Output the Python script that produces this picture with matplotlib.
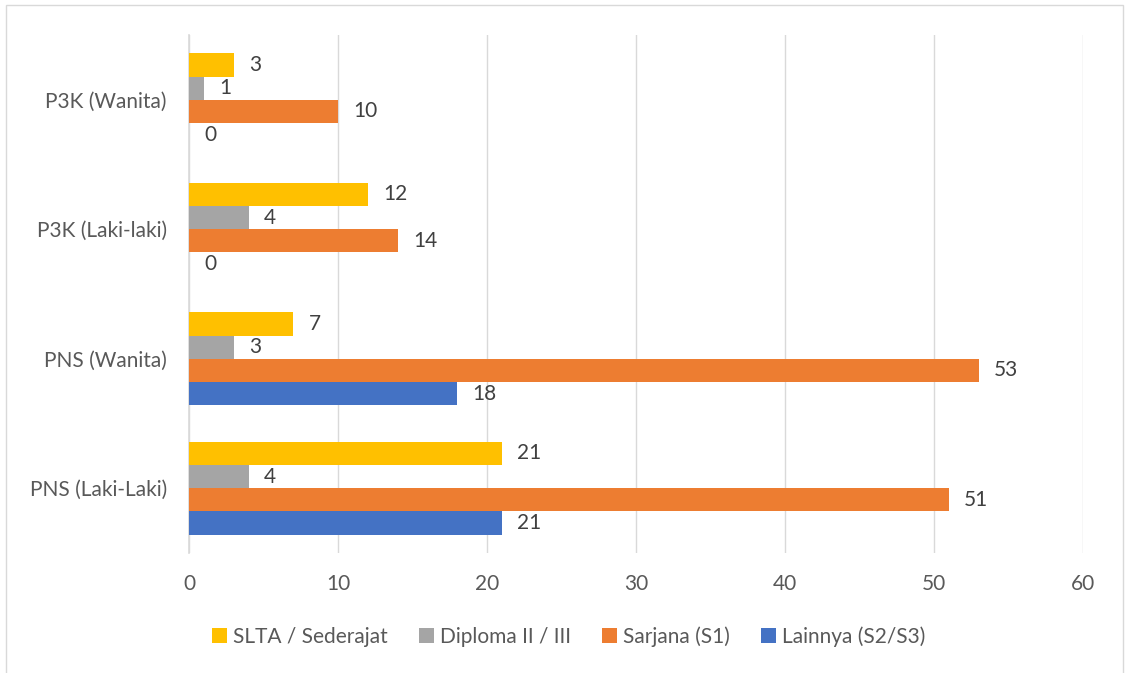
import numpy as np
import matplotlib.pyplot as plt
from matplotlib.patches import Rectangle

plt.rcParams['font.family'] = ['Lato', 'DejaVu Sans']

categories = ['PNS (Laki-Laki)', 'PNS (Wanita)', 'P3K (Laki-laki)', 'P3K (Wanita)']
series = ['SLTA / Sederajat', 'Diploma II / III', 'Sarjana (S1)', 'Lainnya (S2/S3)']
slta = [21, 7, 12, 3]
diploma = [4, 3, 4, 1]
sarjana = [51, 53, 14, 10]
lainnya = [21, 18, 0, 0]
colors = ['#FFC000', '#A5A5A5', '#ED7D31', '#4472C4']

txt = '#595959'
fs = 15
fig = plt.figure(figsize=(11.31, 6.73), dpi=100)
ax = fig.add_axes([189 / 1131, 120 / 673, 894 / 1131, 518 / 673])

y = np.arange(len(categories))
h = 0.179
for i, (name, vals, c) in enumerate(zip(series, [slta, diploma, sarjana, lainnya], colors)):
    pos = y + (1.5 - i) * h
    ax.barh(pos, vals, height=h, color=c, label=name, zorder=3)
    for p, v in zip(pos, vals):
        ax.annotate(str(v), (v, p), xytext=(11, 0), textcoords='offset points',
                    va='center', ha='left', fontsize=fs, color='#404040')

ax.set_xlim(0, 60)
ax.set_ylim(-0.5, 3.5)
ax.set_xticks(range(0, 61, 10))
ax.set_yticks(y)
ax.set_yticklabels(categories)
ax.grid(axis='x', color='#D9D9D9', linewidth=1, zorder=0)
for s in ['top', 'right', 'bottom']:
    ax.spines[s].set_visible(False)
ax.spines['left'].set_color('#D9D9D9')
ax.spines['left'].set_linewidth(1.2)
ax.tick_params(length=0, labelsize=fs, labelcolor=txt)
ax.tick_params(axis='x', pad=15)
ax.tick_params(axis='y', pad=16)

ax.legend(loc='upper center', bbox_to_anchor=(0.425, -0.105), ncol=4, frameon=False,
          fontsize=fs, handlelength=0.7, handleheight=0.7, handletextpad=0.3,
          columnspacing=1.5, labelcolor=txt)

fig.patches.append(Rectangle((6 / 1131, -0.01), 1117 / 1131, 1 - 5 / 673 + 0.01,
                             transform=fig.transFigure, fill=False,
                             edgecolor='#D9D9D9', linewidth=1))

fig.savefig('out.png', dpi=100)
